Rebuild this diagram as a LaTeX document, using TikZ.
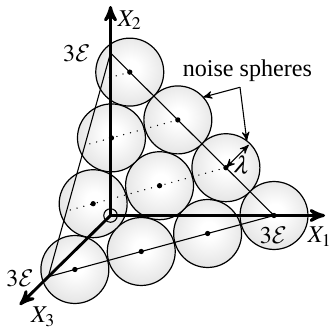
\documentclass[tikz,border=0pt]{standalone}
\usepackage{mathptmx}
\DeclareMathAlphabet{\mathcal}{OMS}{cmsy}{m}{n}
\usepackage{fontspec}
\setmainfont{Liberation Serif}
\usetikzlibrary{arrows,calc}
\def\ep{3\mathcal{E}}
\def\rs{14.1pt}
\pgfdeclareradialshading{spherefill}{\pgfpoint{1bp}{3bp}}{color(0bp)=(white); color(6bp)=(white); color(22bp)=(black!8); color(38bp)=(black!16); color(50bp)=(black!24)}

\begin{document}
\begin{tikzpicture}[x={(67.85pt,0pt)},y={(0pt,67.44pt)},z={(-25.81pt,-25.40pt)},
    axis/.style={line width=1.2pt,-stealth'},
    edge/.style={line width=0.45pt},
    dotline/.style={line width=0.6pt,dash pattern=on 0.01pt off 2.9pt,line cap=round},
    sphere/.style={draw,line width=0.5pt,shading=spherefill},
    marker/.style={-stealth',line width=0.45pt}]
  \useasboundingbox (-45.86pt,-47.52pt) rectangle (92.75pt,89.43pt);
  % corners of the simplex
  \coordinate (O) at (0,0,0);
  \coordinate (A1) at (1,0,0);
  \coordinate (A2) at (0,1,0);
  \coordinate (A3) at (0,0,1);
  % sphere centres
  \foreach \i/\j in {0/0,1/0,2/0,3/0,0/1,1/1,2/1,0/2,1/2,0/3}
    \coordinate (s\i\j) at ({1-0.2941*(\i+\j)},{0.2941*\i},{0.2941*\j});
  \foreach \i/\j in {0/0,1/0,2/0,3/0,0/1,1/1,2/1,0/2,1/2,0/3}
    \path[sphere] (s\i\j) circle (\rs);
  % edges and rows
  \draw[edge] (A2) -- (A1) -- (A3) -- cycle;
  \coordinate (e1) at (0,0.294,0.706);
  \coordinate (e2) at (0,0.588,0.412);
  \coordinate (e3) at (0,0.882,0.118);
  \draw[dotline] (s10) -- (e1);
  \draw[dotline] (s20) -- (e2);
  \draw[dotline] (s30) -- (e3);
  % axes
  \coordinate (X1) at (1.312,0,0);
  \coordinate (X2) at (0,1.289,0);
  \coordinate (X3) at (0,0,1.46);
  \draw[axis] (O) -- (X1);
  \draw[axis] (O) -- (X2);
  \draw[axis] (O) -- (X3);
  \draw[edge] (O) circle (2.8pt);
  \node (l1) at (1.281,-0.130,0) {$X_1$};
  \node (l2) at (0.119,1.203,0) {$X_2$};
  \node (l3) at (-0.411,-0.623,0) {$X_3$};
  \node (c1) at (0.996,-0.12,0) {$\ep$};
  \node (c2) at (-0.207,1.0,0) {$\ep$};
  \node (c3) at (-0.554,-0.386,0) {$\ep$};
  % centre dots
  \foreach \i/\j in {0/0,1/0,2/0,3/0,0/1,1/1,2/1,0/2,1/2,0/3}
    \fill (s\i\j) circle (1.1pt);
  % labels
  \node (ns) at (0.837,0.891,0) {noise spheres};
  \coordinate (bend) at (0.792,0.789,0);
  \coordinate (t2) at ($(s20)+(42:\rs)$);
  \coordinate (t1) at ($(s10)+(52:\rs)$);
  \draw[marker] (bend) -- (t2);
  \draw[marker] (bend) -- (t1);
  \coordinate (r1) at ($(s10)+(45:13.4pt)$);
  \draw[marker,stealth'-stealth'] (s10) -- (r1);
  \node[rotate=-8] (lam) at ($(s10)+(6.9pt,1pt)$) {$\lambda$};
\end{tikzpicture}
\end{document}
